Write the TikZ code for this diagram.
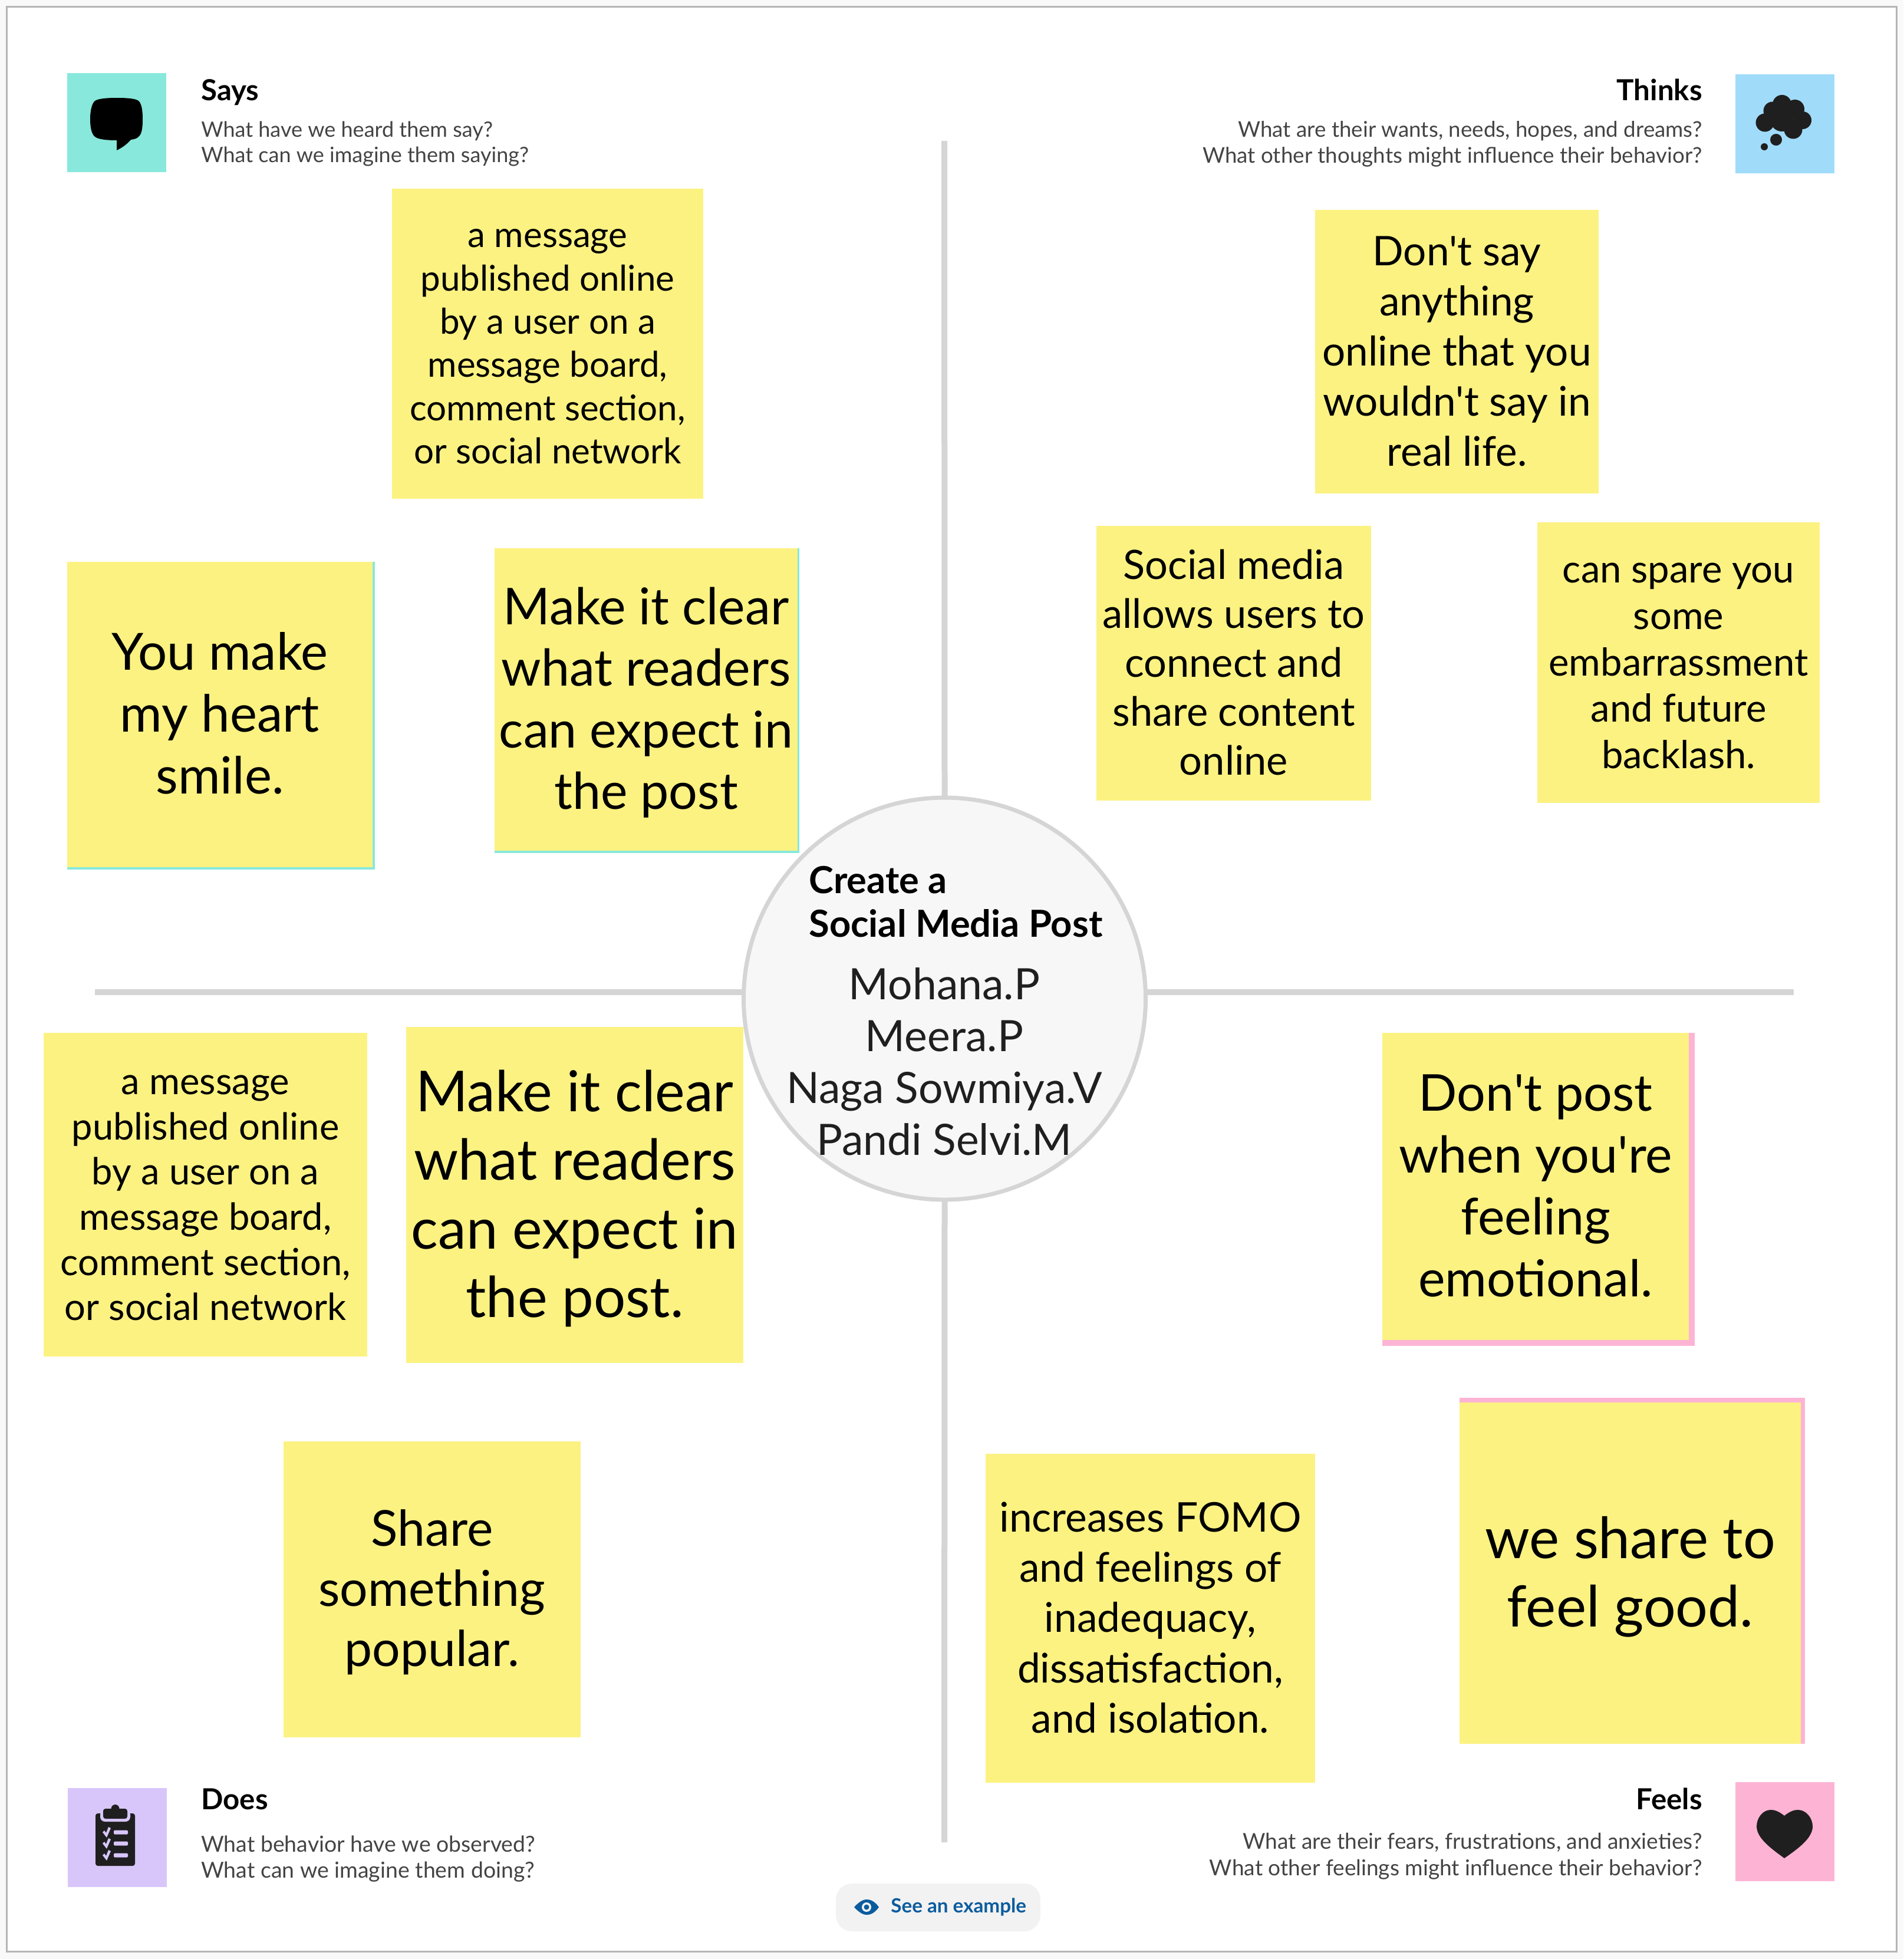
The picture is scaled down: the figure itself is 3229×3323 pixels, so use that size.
\documentclass[tikz,border=0pt]{standalone}
\usepackage{fontspec}
\setmainfont{Lato}
\usetikzlibrary{positioning,calc}
\definecolor{mapyellow}{HTML}{FCF281}
\definecolor{mapteal}{HTML}{88E8DB}
\definecolor{mapblue}{HTML}{A0DCFA}
\definecolor{mapviolet}{HTML}{D8C6FB}
\definecolor{mappink}{HTML}{FDB4D4}
\definecolor{mapgray}{HTML}{D5D5D5}
\definecolor{mapframe}{HTML}{B5B5B5}
\definecolor{mappaper}{HTML}{F9F9F9}
\definecolor{maphub}{HTML}{F7F7F7}
\definecolor{mapink}{HTML}{1F1F1F}
\definecolor{mapsub}{HTML}{444444}
\definecolor{mapbutton}{HTML}{F2F2F2}
\definecolor{maplink}{HTML}{0B5C9E}
\newcommand{\notetop}{\rule{0pt}{\dimexpr.7\baselineskip+.2em\relax}}

\begin{document}
\begin{tikzpicture}[
    x=0.02cm,
    y=-0.02cm,
    sized/.style 2 args={minimum width=#1*0.02cm, minimum height=#2*0.02cm},
    note/.style={rectangle, fill=mapyellow, align=center, inner sep=0pt, outer sep=0pt, text=black},
    txt/.style 2 args={font=\fontsize{#1}{#2}\selectfont},
    icon/.style={rectangle, inner sep=0pt, outer sep=0pt, minimum size=168*0.02cm},
    title/.style={anchor=base, inner sep=0pt, font=\fontsize{28}{32}\selectfont\bfseries, text=black},
    hint/.style={inner sep=0pt, text=mapsub},
    axis/.style={draw=mapgray, line width=10*0.02cm}
  ]
    \useasboundingbox (0,0) rectangle (3229,3323);
    \fill[mappaper] (0,0) rectangle (3229,3323);
    \draw[draw=mapframe, line width=3*0.02cm, fill=white] (11.5,11) rectangle (3217,3310);

    % corner icons
    \node[icon, fill=mapteal] (saysicon) at (198,208) {};
    \node[icon, fill=mapblue] (thinksicon) at (3028,210) {};
    \node[icon, fill=mapviolet] (doesicon) at (198.5,3116.5) {};
    \node[icon, fill=mappink] (feelsicon) at (3028,3107) {};

    \fill[black] (198,166) .. controls (215,166) and (232,167) .. (236,172) .. controls (241,178) and (242,190) .. (242,202) .. controls (242,215) and (241,226) .. (236,231) .. controls (233,235) and (228,236) .. (222,237) .. controls (215,245) and (208,250) .. (198,255) -- (198,238) .. controls (185,238) and (165,237) .. (160,231) .. controls (155,226) and (153,215) .. (153,202) .. controls (153,190) and (155,178) .. (160,172) .. controls (165,167) and (182,166) .. (198,166) -- cycle;

    \foreach \cx/\cy/\cr in {2994/208/15.5, 3007/188/15.5, 3023/177/16, 3045/185/16, 3058/204/15, 3042/220/15.5, 3023/203/20, 3013/237/10, 2993/249/6}
      \fill[mapink] (\cx,\cy) circle (\cr*0.02cm);

    \fill[mapink, rounded corners=4*0.02cm] (162,3076) rectangle (229,3165);
    \fill[mapviolet, rounded corners=8*0.02cm] (170,3070) rectangle (221,3090);
    \fill[mapink, rounded corners=4*0.02cm] (175,3068) rectangle (216,3085);
    \fill[mapink] (195.5,3068) circle (7*0.02cm);
    \foreach \ly in {3108,3127,3147} {
      \fill[mapviolet] (174,\ly) -- (177,\ly-3) -- (180,\ly+1) -- (184,\ly-9) -- (188,\ly-7) -- (181,\ly+9) -- cycle;
      \fill[mapviolet, rounded corners=1.5*0.02cm] (193,\ly-3.5) rectangle (217,\ly+3.5);
    }

    \fill[mapink] (3027,3080) .. controls (3017,3072) and (3010,3070) .. (3004,3070) .. controls (2990,3070) and (2980,3084) .. (2980,3098) .. controls (2980,3118) and (3005,3136) .. (3027,3152) .. controls (3050,3136) and (3075,3118) .. (3075,3098) .. controls (3075,3084) and (3064,3070) .. (3050,3070) .. controls (3044,3070) and (3037,3072) .. (3027,3080) -- cycle;

    % corner headings
    \node[title, anchor=base west] (saystitle) at (341,170) {Says};
    \node[hint, txt={20.5}{25}, align=left, anchor=west] (sayshint) at (341,244) {What have we heard them say?\\What can we imagine them saying?};
    \node[title, anchor=base east] (thinkstitle) at (2888,170) {Thinks};
    \node[hint, txt={20.9}{25}, align=right, anchor=east] (thinkshint) at (2888,244) {What are their wants, needs, hopes, and dreams?\\What other thoughts might influence their behavior?};
    \node[title, anchor=base west] (doestitle) at (341,3069) {Does};
    \node[hint, txt={21.3}{25.5}, align=left, anchor=west] (doeshint) at (341,3153) {What behavior have we observed?\\What can we imagine them doing?};
    \node[title, anchor=base east] (feelstitle) at (2888,3069) {Feels};
    \node[hint, txt={21.1}{25.5}, align=right, anchor=east] (feelshint) at (2888,3149) {What are their fears, frustrations, and anxieties?\\What other feelings might influence their behavior?};

    % stickies
    \node[note, sized={528}{526}, txt={34.2}{41.8}] (saysa) at (929,582.5) {\notetop a message\\published online\\by a user on a\\message board,\\comment section,\\or social network\strut};
    \fill[mapteal] (114,953) rectangle (636,1475);
    \node[note, sized={518}{518}, txt={49.5}{59.7}] (saysb) at (373,1212) {\notetop You make\\my heart\\smile.\strut};
    \fill[mapteal] (839,930) rectangle (1356,1447);
    \node[note, sized={514}{513}, txt={49}{59.5}] (saysc) at (1096,1186.5) {\notetop Make it clear\\what readers\\can expect in\\the post\strut};

    \node[note, sized={481}{481}, txt={39.4}{48.4}] (thinksa) at (2471.5,596.5) {\notetop Don\textquotesingle t say\\anything\\online that you\\wouldn\textquotesingle t say in\\real life.\strut};
    \node[note, sized={466}{466}, txt={39}{47.2}] (thinksb) at (2093,1125) {\notetop Social media\\allows users to\\connect and\\share content\\online\strut};
    \node[note, sized={479}{476}, txt={37.1}{44.8}] (thinksc) at (2847.5,1124) {\notetop can spare you\\some\\embarrassment\\and future\\backlash.\strut};

    \node[note, sized={549}{549}, txt={36}{43.6}] (doesa) at (348.5,2026.5) {\notetop a message\\published online\\by a user on a\\message board,\\comment section,\\or social network\strut};
    \node[note, sized={572}{570}, txt={54.5}{66.3}] (doesb) at (975,2027) {\notetop Make it clear\\what readers\\can expect in\\the post.\strut};
    \node[note, sized={504}{502}, txt={47.8}{58}] (doesc) at (733,2696) {\notetop Share\\something\\popular.\strut};

    \fill[mappink] (2345,1752) rectangle (2875,2283);
    \node[note, sized={520}{521}, txt={49}{59.7}] (feelsa) at (2605,2012.5) {\notetop Don\textquotesingle t post\\when you\textquotesingle re\\feeling\\emotional.\strut};
    \node[note, sized={559}{558}, txt={39.5}{48.4}] (feelsb) at (1951.5,2745) {\notetop increases FOMO\\and feelings of\\inadequacy,\\dissatisfaction,\\and isolation.\strut};
    \fill[mappink] (2476,2371) rectangle (3062,2958);
    \node[note, sized={579}{579}, txt={55}{66.3}] (feelsc) at (2765.5,2668.5) {\notetop we share to\\feel good.\strut};

    % centre circle and the axes
    \node[circle, draw=mapgray, fill=maphub, line width=7*0.02cm, inner sep=0pt, outer sep=0pt, minimum size=682*0.02cm] (hub) at (1602.5,1694) {};
    \node[inner sep=0pt, align=left, anchor=west, font=\fontsize{36}{42}\selectfont\bfseries, text=black] (hubtitle) at (1372,1530) {Create a\\Social Media Post};
    \node[inner sep=0pt, align=center, font=\fontsize{41.7}{50}\selectfont, text=mapink] (hubnames) at (1602,1801) {Mohana.P\\Meera.P\\Naga Sowmiya.V\\Pandi Selvi.M};

    \coordinate (axisup) at (1602,239);
    \coordinate (axisdown) at (1602,3125);
    \coordinate (axisleft) at (161,1683);
    \coordinate (axisright) at (3043,1683);
    \draw[axis] (hub.north) -- (axisup);
    \draw[axis] (hub.south) -- (axisdown);
    \draw[axis] (hub.west |- axisleft) -- (axisleft);
    \draw[axis] (hub.east |- axisright) -- (axisright);

    % example button
    \node[rectangle, rounded corners=27*0.02cm, fill=mapbutton, inner sep=0pt, sized={347}{81}] (button) at (1591.5,3235.5) {};
    \node[inner sep=0pt, anchor=west, font=\fontsize{18.9}{22}\selectfont\bfseries, text=maplink] (buttontext) at (1511,3235) {See an example};
    \fill[maplink] (1449,3235) .. controls (1459,3224) and (1466,3222) .. (1470,3222) .. controls (1476,3222) and (1483,3224) .. (1491,3235) .. controls (1483,3246) and (1476,3248) .. (1470,3248) .. controls (1466,3248) and (1459,3246) .. (1449,3235) -- cycle;
    \fill[mapbutton] (1470,3235) circle (8*0.02cm);
    \fill[maplink] (1470,3235) circle (4.5*0.02cm);
  \end{tikzpicture}
\end{document}
